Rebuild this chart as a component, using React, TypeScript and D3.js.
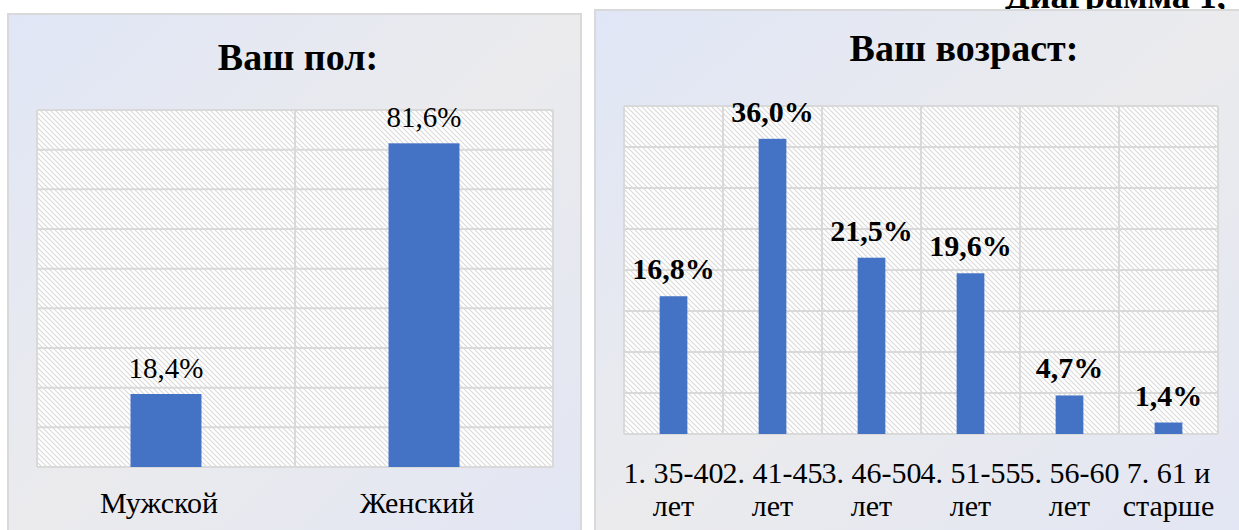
import React from 'react';
import * as d3 from 'd3';

const genderCats = ['Мужской', 'Женский'];
const genderVals = [18.4, 81.6];
const genderTicks = [0, 10, 20, 30, 40, 50, 60, 70, 80, 90];

const ageCats = [
  ['1. 35-40', 'лет'],
  ['2. 41-45', 'лет'],
  ['3. 46-50', 'лет'],
  ['4. 51-55', 'лет'],
  ['5. 56-60', 'лет'],
  ['7. 61 и', 'старше'],
];
const ageVals = [16.8, 36.0, 21.5, 19.6, 4.7, 1.4];
const ageTicks = [0, 5, 10, 15, 20, 25, 30, 35, 40];

const FONT = '"Liberation Serif", "Times New Roman", serif';
const BAR = '#4472c4';
const GRID = '#d9d9d9';

const fmt = (v: number) => v.toFixed(1).replace('.', ',') + '%';

const App = () => {
  // left chart
  const lx = d3.scaleBand().domain(genderCats).range([37, 553]).paddingInner(0).paddingOuter(0);
  const ly = d3.scaleLinear().domain([0, 90]).range([467, 110]);
  const lbw = lx.bandwidth() * 0.275;

  // right chart
  const rKeys = ageCats.map((c) => c.join(' '));
  const rx = d3.scaleBand().domain(rKeys).range([624, 1218]);
  const ry = d3.scaleLinear().domain([0, 40]).range([434, 106]);
  const rbw = rx.bandwidth() * 0.28;

  return (
    <svg width={1239} height={530} style={{ position: 'absolute', left: 0, top: 0 }} fontFamily={FONT}>
      <defs>
        <linearGradient id="bg" x1="0" y1="0" x2="1" y2="1">
          <stop offset="0%" stopColor="#e0e6f6" />
          <stop offset="50%" stopColor="#ebebed" />
          <stop offset="100%" stopColor="#e2e6f4" />
        </linearGradient>
        <pattern id="hatch" patternUnits="userSpaceOnUse" width={5} height={5}>
          <rect width={5} height={5} fill="#ffffff" />
          <path d="M-1,-1 L6,6 M-1,4 L1,6 M4,-1 L6,1" stroke="#dadada" strokeWidth={1.1} />
        </pattern>
      </defs>
      <rect width={1239} height={530} fill="#ffffff" />

      <text x={1005} y={8} fontSize={36} fontWeight="bold" fill="#000">Диаграмма 1,</text>

      {/* left panel */}
      <rect x={8} y={14} width={573} height={530} fill="url(#bg)" stroke="#d9d9d9" strokeWidth={2} />
      <text x={298} y={70} fontSize={38} fontWeight="bold" textAnchor="middle">Ваш пол:</text>
      <rect x={37} y={110} width={516} height={357} fill="url(#hatch)" />
      {genderTicks.map((t) => (
        <line key={t} x1={37} x2={553} y1={ly(t)} y2={ly(t)} stroke={GRID} strokeWidth={2} />
      ))}
      {[...genderCats.map((c) => lx(c)!), 553].map((x, i) => (
        <line key={i} x1={x} x2={x} y1={110} y2={467} stroke={GRID} strokeWidth={2} />
      ))}
      {genderCats.map((c, i) => {
        const cx = lx(c)! + lx.bandwidth() / 2;
        return (
          <g key={c}>
            <rect x={cx - lbw / 2} y={ly(genderVals[i])} width={lbw} height={ly(0) - ly(genderVals[i])} fill={BAR} />
            <text x={cx} y={ly(genderVals[i]) - 16} fontSize={29} textAnchor="middle">{fmt(genderVals[i])}</text>
            <text x={cx - 7} y={513} fontSize={30} textAnchor="middle">{c}</text>
          </g>
        );
      })}

      {/* right panel */}
      <rect x={595} y={10} width={660} height={540} fill="url(#bg)" stroke="#d9d9d9" strokeWidth={2} />
      <text x={964} y={61} fontSize={38} fontWeight="bold" textAnchor="middle">Ваш возраст:</text>
      <rect x={624} y={106} width={594} height={328} fill="url(#hatch)" />
      {ageTicks.map((t) => (
        <line key={t} x1={624} x2={1218} y1={ry(t)} y2={ry(t)} stroke={GRID} strokeWidth={2} />
      ))}
      {[...rKeys.map((k) => rx(k)!), 1218].map((x, i) => (
        <line key={i} x1={x} x2={x} y1={106} y2={434} stroke={GRID} strokeWidth={2} />
      ))}
      {rKeys.map((k, i) => {
        const cx = rx(k)! + rx.bandwidth() / 2;
        return (
          <g key={k}>
            <rect x={cx - rbw / 2} y={ry(ageVals[i])} width={rbw} height={ry(0) - ry(ageVals[i])} fill={BAR} />
            <text x={cx} y={ry(ageVals[i]) - 17} fontSize={30} fontWeight="bold" textAnchor="middle">{fmt(ageVals[i])}</text>
            <text x={cx} y={483} fontSize={30} textAnchor="middle">{ageCats[i][0]}</text>
            <text x={cx} y={516} fontSize={30} textAnchor="middle">{ageCats[i][1]}</text>
          </g>
        );
      })}
    </svg>
  );
};

export default App;
